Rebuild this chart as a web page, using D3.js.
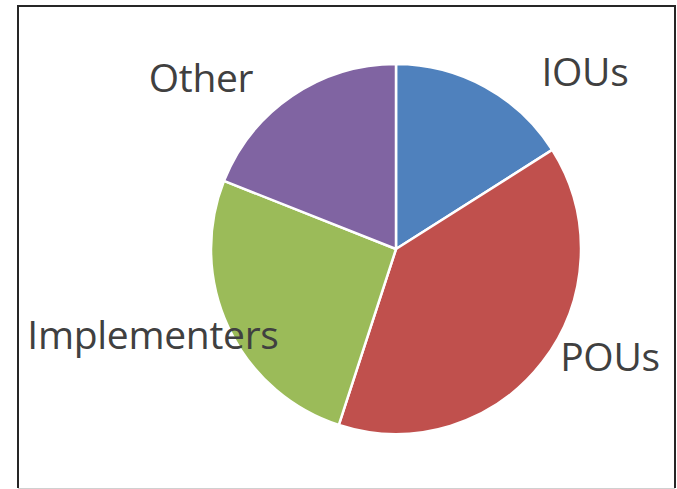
<!DOCTYPE html>
<html>
<head>
<meta charset="utf-8">
<script src="https://cdn.jsdelivr.net/npm/d3@7"></script>
<style>
  html, body { margin: 0; padding: 0; background: #fff; }
</style>
</head>
<body>
<div id="chart"></div>
<script>
// data (percent shares)
const categories = ["IOUs", "POUs", "Implementers", "Other"];
const shares = [16, 39, 26, 19];
const colors = ["#4F81BD", "#C0504D", "#9BBB59", "#8064A2"];

// label anchors (centre x, baseline y) – layout, not data
const labelPos = [[585, 86], [610, 371], [153, 349], [201, 92]];

const width = 677, height = 489;
const cx = 396, cy = 249, radius = 185;

const svg = d3.select("#chart")
    .append("svg")
    .attr("width", width)
    .attr("height", height);

// frame: dark on three sides, the bottom edge is cut off to a faint line
svg.append("path")
    .attr("d", "M18,488 V6 H675 V488")
    .attr("fill", "none")
    .attr("stroke", "#262626")
    .attr("stroke-width", 2);
svg.append("line")
    .attr("x1", 18).attr("x2", 675)
    .attr("y1", 488.5).attr("y2", 488.5)
    .attr("stroke", "#d0d0d0")
    .attr("stroke-width", 1);

const pie = d3.pie().sort(null).value(d => d.value);
const arc = d3.arc().innerRadius(0).outerRadius(radius);

const data = categories.map((c, i) => ({ name: c, value: shares[i], color: colors[i] }));

const g = svg.append("g")
    .attr("transform", `translate(${cx},${cy})`);

g.selectAll("path")
    .data(pie(data))
    .join("path")
    .attr("d", arc)
    .attr("fill", d => d.data.color)
    .attr("stroke", "#fff")
    .attr("stroke-width", 2.5)
    .attr("stroke-linejoin", "round");

svg.selectAll("text.label")
    .data(data)
    .join("text")
    .attr("class", "label")
    .attr("x", (d, i) => labelPos[i][0])
    .attr("y", (d, i) => labelPos[i][1])
    .attr("text-anchor", "middle")
    .attr("font-family", "'Open Sans', sans-serif")
    .attr("font-size", 39)
    .attr("letter-spacing", -0.3)
    .attr("fill", "#404040")
    .text(d => d.name);
</script>
</body>
</html>
